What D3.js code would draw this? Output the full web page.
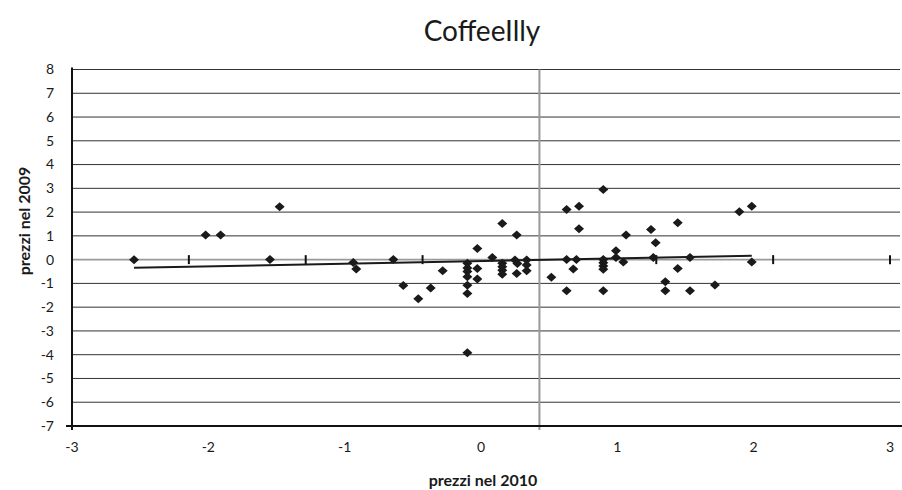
<!DOCTYPE html>
<html>
<head>
<meta charset="utf-8">
<script src="https://cdn.jsdelivr.net/npm/d3@7"></script>
<style>
  body { margin: 0; background: #fff; }
  text { font-family: Lato, "Open Sans", sans-serif; fill: #1a1a1a; }
</style>
</head>
<body>
<div id="chart"></div>
<script>
// data
var xVals = [-2.545, -2.02, -1.91, -1.477, -1.548, -0.937, -0.915,
  -0.643, -0.57, -0.46, -0.369, -0.281,
  -0.1, -0.1, -0.1, -0.1, -0.1, -0.1, -0.1,
  -0.027, -0.027, -0.027, 0.083, 0.156,
  0.156, 0.156, 0.156, 0.156,
  0.262, 0.249, 0.267, 0.262, 0.335, 0.335, 0.335, 0.516,
  0.628, 0.719, 0.897, 0.719, 0.628, 0.70, 0.677, 0.628,
  0.897, 0.897, 0.897, 0.897, 0.897,
  0.99, 0.99, 1.044, 1.064, 1.247, 1.281, 1.264, 1.352, 1.352,
  1.443, 1.443, 1.533, 1.533, 1.716, 1.895, 1.986, 1.986];
var yVals = [0, 1.04, 1.04, 2.22, 0.01, -0.12, -0.39,
  0.01, -1.09, -1.65, -1.19, -0.47,
  -0.15, -0.35, -0.5, -0.72, -1.08, -1.42, -3.92,
  0.47, -0.37, -0.82, 0.09, 1.52,
  -0.15, -0.3, -0.45, -0.61,
  1.04, -0.02, -0.16, -0.58, -0.02, -0.23, -0.47, -0.74,
  2.11, 2.25, 2.95, 1.3, 0.01, 0.01, -0.39, -1.31,
  0.01, -0.13, -0.27, -0.4, -1.31,
  0.37, 0.09, -0.1, 1.04, 1.27, 0.71, 0.09, -0.93, -1.31,
  1.55, -0.37, 0.09, -1.31, -1.07, 2.01, 2.25, -0.1];
var yTicks = d3.range(-7, 9);
var xTicks = d3.range(-3, 4);

var svgWidth = 902, svgHeight = 490;

var svg = d3.select("#chart").append("svg")
  .attr("width", svgWidth)
  .attr("height", svgHeight);

var x = d3.scaleLinear().domain([-3, 3]).range([72, 890]);
var y = d3.scaleLinear().domain([-7, 8]).range([426, 69.5]);
var right = 900;

// title
svg.append("text")
  .attr("x", 482).attr("y", 41)
  .attr("text-anchor", "middle")
  .attr("font-size", "28px")
  .text("CoffeeIlly");

// horizontal gridlines
svg.selectAll(".grid")
  .data(yTicks.filter(d => d > -7))
  .enter().append("line")
  .attr("x1", x(-3)).attr("x2", right)
  .attr("y1", d => y(d)).attr("y2", d => y(d))
  .attr("stroke", d => d === 0 ? "#999" : "#333")
  .attr("stroke-width", d => d === 0 ? 1.6 : 1);

// vertical line and minor marks along zero line (7 intervals of the axis)
var minor = d3.range(1, 8).map(k => -3 + k * 6 / 7);
svg.append("line")
  .attr("x1", x(minor[3])).attr("x2", x(minor[3]))
  .attr("y1", y(8)).attr("y2", y(-7) + 4)
  .attr("stroke", "#999").attr("stroke-width", 2);
svg.selectAll(".mtick")
  .data(minor.filter((d, i) => i !== 3))
  .enter().append("line")
  .attr("x1", d => x(d)).attr("x2", d => x(d))
  .attr("y1", y(0) - 4.5).attr("y2", y(0) + 4.5)
  .attr("stroke", "#111").attr("stroke-width", 2);

// axes lines
svg.append("line")
  .attr("x1", x(-3) - 6).attr("x2", svgWidth)
  .attr("y1", y(-7)).attr("y2", y(-7))
  .attr("stroke", "#111").attr("stroke-width", 2);
svg.append("line")
  .attr("x1", x(-3)).attr("x2", x(-3))
  .attr("y1", y(8) - 2).attr("y2", y(-7) + 4)
  .attr("stroke", "#111").attr("stroke-width", 2);

// tick labels
svg.selectAll(".ylab")
  .data(yTicks)
  .enter().append("text")
  .attr("x", 54).attr("y", d => y(d))
  .attr("dy", "0.35em")
  .attr("text-anchor", "end")
  .attr("font-size", "14px")
  .text(d => d);

svg.selectAll(".xlab")
  .data(xTicks)
  .enter().append("text")
  .attr("x", d => x(d)).attr("y", 452)
  .attr("text-anchor", "middle")
  .attr("font-size", "14px")
  .text(d => d);

// axis titles
svg.append("text")
  .attr("transform", "translate(30,221) rotate(-90)")
  .attr("text-anchor", "middle")
  .attr("font-size", "16px")
  .attr("font-weight", "bold")
  .text("prezzi nel 2009");

svg.append("text")
  .attr("x", 483).attr("y", 486)
  .attr("text-anchor", "middle")
  .attr("font-size", "16px")
  .attr("font-weight", "bold")
  .text("prezzi nel 2010");

// points
var pts = xVals.map((v, i) => ({ x: v, y: yVals[i] }));

svg.selectAll(".pt")
  .data(pts)
  .enter().append("path")
  .attr("d", "M0,-4.5L5,0L0,4.5L-5,0Z")
  .attr("transform", d => `translate(${x(d.x)},${y(d.y)})`)
  .attr("fill", "#1a1a1a");

// linear trend line (least squares)
var mx = d3.mean(pts, d => d.x), my = d3.mean(pts, d => d.y);
var slope = d3.sum(pts, d => (d.x - mx) * (d.y - my)) / d3.sum(pts, d => (d.x - mx) * (d.x - mx));
var icpt = my - slope * mx;
var ext = d3.extent(pts, d => d.x);
svg.append("line")
  .attr("x1", x(ext[0])).attr("y1", y(icpt + slope * ext[0]))
  .attr("x2", x(ext[1])).attr("y2", y(icpt + slope * ext[1]))
  .attr("stroke", "#1a1a1a").attr("stroke-width", 2);
</script>
</body>
</html>
